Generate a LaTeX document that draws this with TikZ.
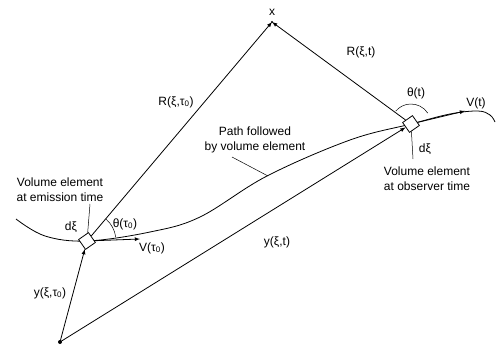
\documentclass[tikz,border=0pt]{standalone}
\usepackage{fontspec}
\setmainfont{Liberation Sans}
\usepackage{tikz}
\usetikzlibrary{calc,positioning}

\begin{document}
\begin{tikzpicture}[x=1pt,y=1pt,line width=0.8pt,
 every node/.style={font=\fontsize{12}{15}\selectfont,inner sep=1pt},
 vbox/.style={draw,fill=white,minimum size=12pt,inner sep=0pt,rotate=35},
 lead/.style={line width=0.5pt}]
 \useasboundingbox (0,0) rectangle (496,349);
 \coordinate (O) at (60,7);
 \coordinate (X) at (272,327);
 \coordinate (e) at (87,108);
 \coordinate (f) at (411,225);
 \coordinate (vE) at (140,110);
 \coordinate (vF) at (465,238);
 \coordinate (pl) at (268,173);
 \coordinate (pa) at (232,192);
 \coordinate (le) at (90,145);
 \coordinate (lf) at (413,190);
 \draw plot[smooth,tension=0.6] coordinates {(16,130) (45,113) (e) (150,117) (200,132) (267,173) (350,209) (f) (450,235) (478,238) (490,234) (495,227)};
 \node[vbox] (E) at (e) {};
 \node[vbox] (F) at (f) {};
 \fill (O) circle (2);
 \fill (X) circle (1.2);
 \draw[-latex] (O) -- (E);
 \draw[-latex] (O) -- (F);
 \draw[-latex] (E) -- (X);
 \draw[-latex] (F) -- (X);
 \draw[-latex] (E) -- (vE);
 \draw[-latex] (F) -- (vF);
 \draw[lead] ([shift={(8:29)}]e) arc (8:49:29);
 \draw[lead] ([shift={(33:20)}]f) arc (33:140:20);
 \node (xlab) at (272,337) {x};
 \node (RE) at (176,247) {R(ξ,τ\textsubscript{0})};
 \node (RF) at (361,297) {R(ξ,t)};
 \node (yE) at (50,56) {y(ξ,τ\textsubscript{0})};
 \node (yF) at (277,107) {y(ξ,t)};
 \node (VE) at (152,101) {V(τ\textsubscript{0})};
 \node (VF) at (476,246) {V(t)};
 \node (thE) at (125,125) {θ(τ\textsubscript{0})};
 \node (thF) at (416,256) {θ(t)};
 \node (dE) at (71,122) {dξ};
 \node (dF) at (425,200) {dξ};
 \node[align=center] (path) at (255,209) {Path followed\\by volume element};
 \node[align=center] (vtE) at (60,159) {Volume element\\at emission time};
 \node[align=center] (vtF) at (427,170) {Volume element\\at observer time};
 \draw[lead] (pa) -- (pl);
 \draw[lead] (le) -- (E);
 \draw[lead] (lf) -- (F);
\end{tikzpicture}
\end{document}
